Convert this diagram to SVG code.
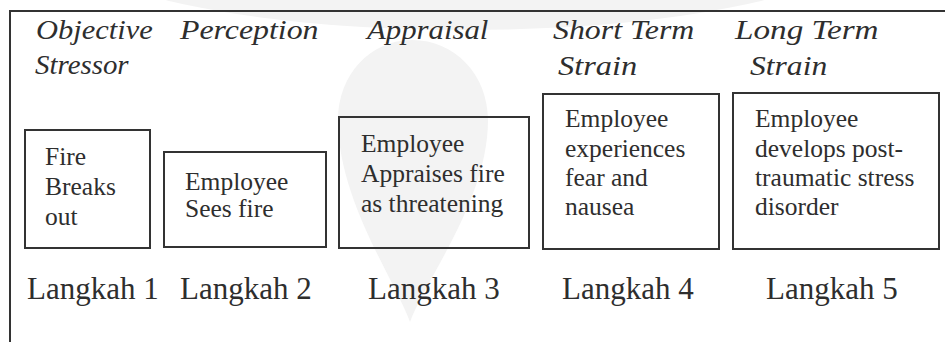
<svg xmlns="http://www.w3.org/2000/svg" width="947" height="342" viewBox="0 0 947 342">
<style>
.wm{fill:#f3f3f3;stroke:none}
.frame{fill:none;stroke:#333;stroke-width:2}
.box{fill:none;stroke:#333;stroke-width:2}
text{font-family:"Liberation Serif","Times New Roman",serif;fill:#2e2e2e}
.hd{font-style:italic;font-size:27px}
.bt{font-size:25.5px}
.lk{font-size:31px}
</style>
<rect width="947" height="342" fill="#fff"/>
<g id="watermark">
<ellipse class="wm" cx="465" cy="-70" rx="420" ry="100"/>
<path class="wm" d="M410 322 C395 280 338 200 338 120 C338 75 370 40 412 40 C455 40 488 75 488 120 C488 200 425 280 410 322 Z"/>
</g>
<g id="frame">
<line class="frame" x1="9" y1="11" x2="945" y2="11"/>
<line class="frame" x1="10" y1="10" x2="10" y2="342"/>
</g>
<g id="headers">
<text class="hd" transform="translate(36,38.5) scale(1.13,1)">Objective</text>
<text class="hd" transform="translate(35,74) scale(1.07,1)">Stressor</text>
<text class="hd" transform="translate(180,38.5) scale(1.18,1)">Perception</text>
<text class="hd" transform="translate(367,38.5) scale(1.14,1)">Appraisal</text>
<text class="hd" transform="translate(553,38.5) scale(1.18,1)">Short Term</text>
<text class="hd" transform="translate(558,75) scale(1.2,1)">Strain</text>
<text class="hd" transform="translate(735,38.5) scale(1.23,1)">Long Term</text>
<text class="hd" transform="translate(750,75) scale(1.17,1)">Strain</text>
</g>
<g id="node1">
<rect class="box" x="25" y="130" width="125" height="118"/>
<text class="bt" x="45" y="165">Fire</text>
<text class="bt" x="45" y="195">Breaks</text>
<text class="bt" x="45" y="225">out</text>
</g>
<g id="node2">
<rect class="box" x="164" y="152" width="162" height="95"/>
<text class="bt" x="185" y="190">Employee</text>
<text class="bt" x="185" y="217">Sees fire</text>
</g>
<g id="node3">
<rect class="box" x="339" y="117" width="190" height="131"/>
<text class="bt" x="361" y="152">Employee</text>
<text class="bt" x="361" y="182">Appraises fire</text>
<text class="bt" x="361" y="212">as threatening</text>
</g>
<g id="node4">
<rect class="box" x="543" y="94" width="176" height="155"/>
<text class="bt" x="565" y="127">Employee</text>
<text class="bt" x="565" y="157">experiences</text>
<text class="bt" x="565" y="186">fear and</text>
<text class="bt" x="565" y="215">nausea</text>
</g>
<g id="node5">
<rect class="box" x="733" y="93" width="206" height="156"/>
<text class="bt" x="755" y="127">Employee</text>
<text class="bt" x="755" y="157">develops post-</text>
<text class="bt" x="755" y="186">traumatic stress</text>
<text class="bt" x="755" y="215">disorder</text>
</g>
<g id="steps">
<text class="lk" x="27" y="298.5">Langkah 1</text>
<text class="lk" x="180" y="298.5">Langkah 2</text>
<text class="lk" x="368" y="298.5">Langkah 3</text>
<text class="lk" x="562" y="298.5">Langkah 4</text>
<text class="lk" x="766" y="298.5">Langkah 5</text>
</g>
<g id="connectors"/>
</svg>
